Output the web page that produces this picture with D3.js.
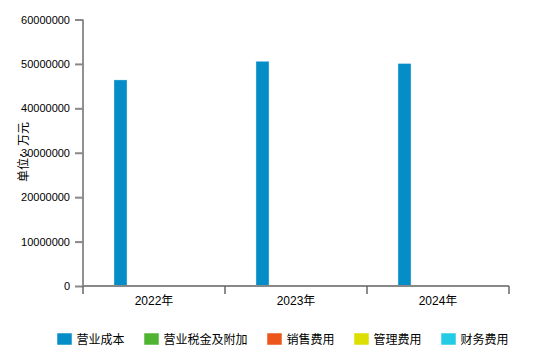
<!DOCTYPE html>
<html><head><meta charset="utf-8">
<script src="https://cdn.jsdelivr.net/npm/d3@7"></script>
<style>
body{margin:0;background:#fff;}
text{font-family:"Liberation Sans","Noto Sans CJK SC",sans-serif;}
</style></head>
<body><svg id="c" width="560" height="346"></svg>
<script>
const categories = ["2022年","2023年","2024年"];
const seriesNames = ["营业成本","营业税金及附加","销售费用","管理费用","财务费用"];
const colors = ["#058DC7","#50B432","#ED561B","#DDDF00","#24CBE5"];
const s_yycb = [46400000, 50600000, 50100000];
const s_yysj = [150000, 160000, 150000];
const s_xsfy = [20000, 20000, 20000];
const s_glfy = [160000, 170000, 170000];
const s_cwfy = [10000, 10000, 10000];
const seriesValues = [s_yycb, s_yysj, s_xsfy, s_glfy, s_cwfy];
const yTicks = [0,10000000,20000000,30000000,40000000,50000000,60000000];
const yLabel = "单位：万元";

const svg = d3.select("#c");
const L = 83, R = 509, T = 19.5, B = 286;
const x0 = d3.scaleBand().domain(categories).range([L, R]).paddingInner(0).paddingOuter(0);
const step = 16.75, pi = 0.22;
const po = (x0.bandwidth()/step - (seriesNames.length - pi))/2;
const x1 = d3.scaleBand().domain(seriesNames).range([0, x0.bandwidth()]).paddingInner(pi).paddingOuter(po);
const y = d3.scaleLinear().domain([0, 60000000]).range([B, T]);

// bars
categories.forEach((c, ci) => {
  seriesNames.forEach((s, si) => {
    const v = seriesValues[si][ci];
    svg.append("rect")
      .attr("x", x0(c) + x1(s))
      .attr("y", y(v))
      .attr("width", x1.bandwidth())
      .attr("height", Math.max(0, B - y(v)))
      .attr("fill", colors[si])
      .attr("stroke", "#ffffff").attr("stroke-width", 0.6).attr("stroke-opacity", 0.6);
  });
});

// y axis
const ya = svg.append("g").attr("transform", `translate(${L},0)`)
  .call(d3.axisLeft(y).tickValues(yTicks).tickFormat(d3.format("d")).tickSize(8).tickPadding(5));
ya.select(".domain").attr("stroke", "#222").attr("d", `M0,${T}V${B}`);
ya.selectAll(".tick line").attr("stroke", "#888").attr("stroke-width", 2);
ya.selectAll(".tick text").attr("font-size", 11).attr("fill", "#000");

// x axis
const xa = svg.append("g").attr("transform", `translate(0,${B})`)
  .call(d3.axisBottom(x0).tickSize(0).tickPadding(10));
xa.select(".domain").attr("stroke", "#888").attr("stroke-width", 2).attr("d", `M${L},0H${R}`);
xa.selectAll(".tick text").attr("font-size", 12).attr("fill", "#000");
const edges = categories.map(c => x0(c)).concat([R]);
xa.selectAll(".edge").data(edges).enter().append("line")
  .attr("x1", d => d).attr("x2", d => d).attr("y1", 0).attr("y2", 8)
  .attr("stroke", "#666").attr("stroke-width", 1.5);

// y label
svg.append("text").attr("transform", "translate(28,152) rotate(-90)")
  .attr("text-anchor", "middle").attr("font-size", 12).attr("fill", "#000").text(yLabel);

// legend
const lg = svg.append("g").attr("transform", "translate(57,333)");
let lx = 0;
seriesNames.forEach((s, i) => {
  const g = lg.append("g").attr("transform", `translate(${lx},0)`);
  g.append("rect").attr("width", 15).attr("height", 12).attr("fill", colors[i])
    .attr("stroke", "#fff").attr("stroke-width", 0.5);
  const t = g.append("text").attr("x", 19.5).attr("y", 11).attr("font-size", 12).attr("fill", "#000").text(s);
  lx += 19.5 + s.length * 12 + 19.5;
});
</script></body></html>
